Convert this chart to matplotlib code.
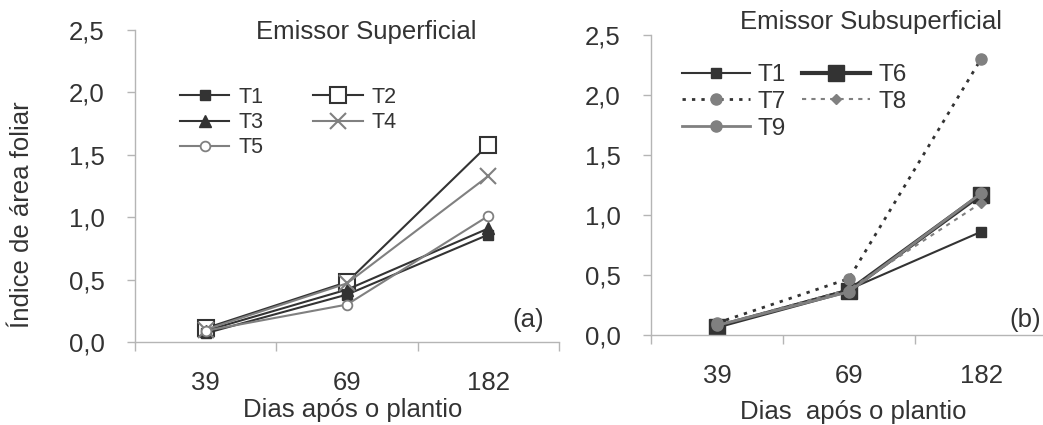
import matplotlib
matplotlib.use("Agg")
import matplotlib.pyplot as plt
from matplotlib.ticker import FixedLocator

plt.rcParams['font.family'] = ['Liberation Sans', 'DejaVu Sans']

days = ["39", "69", "182"]
y_ticks = [0.0, 0.5, 1.0, 1.5, 2.0, 2.5]
y_ticklabels = ["0,0", "0,5", "1,0", "1,5", "2,0", "2,5"]

# Panel (a) - Emissor Superficial
a_T1 = [0.07, 0.38, 0.86]
a_T2 = [0.11, 0.48, 1.58]
a_T3 = [0.09, 0.42, 0.91]
a_T4 = [0.10, 0.47, 1.33]
a_T5 = [0.09, 0.30, 1.01]

# Panel (b) - Emissor Subsuperficial
b_T1 = [0.07, 0.38, 0.86]
b_T6 = [0.07, 0.37, 1.17]
b_T7 = [0.10, 0.47, 2.30]
b_T8 = [0.08, 0.38, 1.10]
b_T9 = [0.08, 0.36, 1.18]

DARK = "#333333"
GRAY = "#808080"
SPINE = "#b5b5b5"
FS = 18.5

W, H = 1043, 425
fig = plt.figure(figsize=(W / 100, H / 100), dpi=100)


def px_axes(x0, x1, ytop, ybot):
    return fig.add_axes([x0 / W, (H - ybot) / H, (x1 - x0) / W, (ybot - ytop) / H])


def style(ax):
    x = list(range(len(days)))
    ax.set_xlim(-0.5, len(days) - 0.5)
    ax.set_ylim(0, 2.5)
    for s in ["top", "right"]:
        ax.spines[s].set_visible(False)
    for s in ["left", "bottom"]:
        ax.spines[s].set_color(SPINE)
        ax.spines[s].set_linewidth(1.0)
    ax.xaxis.set_major_locator(FixedLocator([i - 0.5 for i in range(len(days) + 1)]))
    ax.xaxis.set_minor_locator(FixedLocator(x))
    ax.set_xticklabels([""] * (len(days) + 1))
    ax.set_xticklabels(days, minor=True)
    ax.tick_params(axis="x", which="major", direction="out", length=6.5, color=SPINE, width=1.0)
    ax.tick_params(axis="x", which="minor", length=0, pad=21, labelsize=FS, labelcolor=DARK)
    ax.set_yticks(y_ticks)
    ax.set_yticklabels(y_ticklabels)
    ax.tick_params(axis="y", direction="out", length=6, color=SPINE, width=1.0,
                   pad=16, labelsize=FS, labelcolor=DARK)
    return x


# ---------- Panel (a)
axa = px_axes(135, 559, 30, 342)
x = style(axa)
h1, = axa.plot(x, a_T1, color=DARK, lw=1.5, marker="s", ms=7, mfc=DARK, mec=DARK, label="T1", zorder=3)
h2, = axa.plot(x, a_T2, color=DARK, lw=1.5, marker="s", ms=12, mfc="white", mec=DARK, mew=1.5,
               label="T2", zorder=2)
h3, = axa.plot(x, a_T3, color=DARK, lw=1.5, marker="^", ms=8, mfc=DARK, mec=DARK, label="T3", zorder=3)
h4, = axa.plot(x, a_T4, color=GRAY, lw=1.5, marker="x", ms=11, mew=1.5, mec=GRAY, label="T4", zorder=3)
h5, = axa.plot(x, a_T5, color=GRAY, lw=1.5, marker="o", ms=7, mfc="white", mec=GRAY, mew=1.3,
               label="T5", zorder=3)
axa.legend(handles=[h1, h3, h5, h2, h4], loc="upper left", bbox_to_anchor=(0.106, 0.818),
           ncol=2, frameon=False, fontsize=15.5, borderpad=0, borderaxespad=0,
           handlelength=2.3, handletextpad=0.42, columnspacing=2.3, labelspacing=0.2,
           labelcolor=DARK)
axa.text(0.545, 0.994, "Emissor Superficial", transform=axa.transAxes, ha="center",
         va="center", fontsize=FS, color=DARK)
axa.text(0.927, 0.07, "(a)", transform=axa.transAxes, ha="center", va="center",
         fontsize=FS, color=DARK)

# ---------- Panel (b)
axb = px_axes(651, 1047, 35, 335)
x = style(axb)
g1, = axb.plot(x, b_T1, color=DARK, lw=1.5, marker="s", ms=7, mfc=DARK, mec=DARK, label="T1", zorder=3)
g6, = axb.plot(x, b_T6, color=DARK, lw=3, marker="s", ms=12, mfc=DARK, mec=DARK, label="T6", zorder=2)
g7, = axb.plot(x, b_T7, color=DARK, lw=2, ls=(0, (1.2, 2.2)), marker="o", ms=8, mfc=GRAY, mec=GRAY,
               label="T7", zorder=3)
g8, = axb.plot(x, b_T8, color=GRAY, lw=1.5, ls=(0, (2, 2.5)), marker="D", ms=5.5, mfc=GRAY, mec=GRAY,
               label="T8", zorder=3)
g9, = axb.plot(x, b_T9, color=GRAY, lw=2, marker="o", ms=8, mfc=GRAY, mec=GRAY, label="T9", zorder=3)
axb.legend(handles=[g1, g7, g9, g6, g8], loc="upper left", bbox_to_anchor=(0.078, 0.903),
           ncol=2, frameon=False, fontsize=17.5, borderpad=0, borderaxespad=0,
           handlelength=2.8, handletextpad=0.32, columnspacing=0.67, labelspacing=0.2,
           labelcolor=DARK)
axb.text(0.556, 1.043, "Emissor Subsuperficial", transform=axb.transAxes, ha="center",
         va="center", fontsize=FS, color=DARK)
axb.text(0.944, 0.05, "(b)", transform=axb.transAxes, ha="center", va="center",
         fontsize=FS, color=DARK)

# ---------- shared labels
fig.text(22 / W, 1 - 215 / H, "Índice de área foliar", rotation=90, ha="center",
         va="center", fontsize=FS, color=DARK)
fig.text(353 / W, 1 - 410 / H, "Dias após o plantio", ha="center", va="center",
         fontsize=FS, color=DARK)
fig.text(853 / W, 1 - 412 / H, "Dias  após o plantio", ha="center", va="center",
         fontsize=FS, color=DARK)

fig.savefig("out.png", dpi=100)
